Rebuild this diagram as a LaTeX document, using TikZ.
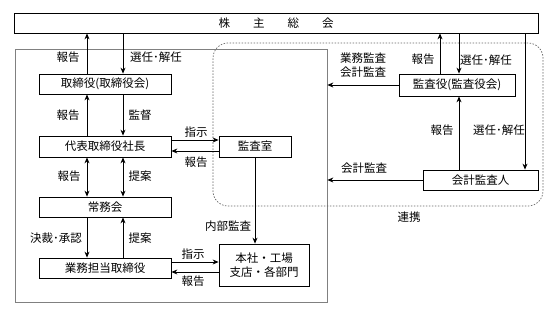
\documentclass[tikz,border=0pt]{standalone}
\usepackage{fontspec}
\setmainfont{Noto Sans CJK JP}
\usepackage{tikz}
\usetikzlibrary{arrows.meta}

\begin{document}
\begin{tikzpicture}[x=1pt, y=-1pt, >={Stealth[length=6pt,width=5pt]},
  every node/.style={font=\fontsize{11.5pt}{14pt}\selectfont, inner sep=0pt},
  box/.style={draw, line width=0.8pt, minimum height=20pt},
  lbl/.style={}]
  \useasboundingbox (0,0) rectangle (556,315);
  % regions
  \node[draw=gray, line width=0.7pt, minimum width=312pt, minimum height=253pt] (kaisha) at (171,175.5) {};
  \node[draw=gray!80!black, line width=0.7pt, dash pattern=on 1.5pt off 1.5pt, rounded corners=15pt,
        minimum width=330pt, minimum height=163pt] (renkei) at (378,124.5) {};
  \node[lbl] at (409,217) {連携};
  % boxes
  \node[box, minimum width=524pt] (kabu) at (276,23) {株\hspace{23pt}主\hspace{23pt}総\hspace{23pt}会};
  \node[box, minimum width=132pt] (tori) at (105,84) {取締役(取締役会)};
  \node[box, minimum width=132pt, minimum height=21pt] (daihyo) at (105,146.5) {代表取締役社長};
  \node[box, minimum width=132pt] (jomu) at (105,207) {常務会};
  \node[box, minimum width=132pt] (gyomu) at (105,268) {業務担当取締役};
  \node[box, minimum width=72pt, minimum height=21pt] (kansa) at (255,146.5) {監査室};
  \node[box, minimum width=90pt, minimum height=42pt, align=center] (honsha) at (264,265) {本社・工場\\支店・各部門};
  \node[box, minimum width=116pt, minimum height=22pt] (kansayaku) at (457,85) {監査役(監査役会)};
  \node[box, minimum width=115pt] (kaikei) at (480.5,180) {会計監査人};

  % left column
  \draw[->, thick] ([xshift=-18pt]tori.north) -- ([xshift=-18pt]tori.north |- kabu.south);
  \draw[->, thick] ([xshift=18pt]tori.north |- kabu.south) -- ([xshift=18pt]tori.north);
  \node[lbl] at (68,57) {報告};
  \node[lbl] at (156,57) {選任･解任};
  \draw[->, thick] ([xshift=-18pt]daihyo.north) -- ([xshift=-18pt]daihyo.north |- tori.south);
  \draw[->, thick] ([xshift=18pt]tori.south) -- ([xshift=18pt]tori.south |- daihyo.north);
  \node[lbl] at (68,115) {報告};
  \node[lbl] at (140,115) {監督};
  \draw[<->, thick] ([xshift=-18pt]daihyo.south) -- ([xshift=-18pt]daihyo.south |- jomu.north);
  \draw[<->, thick] ([xshift=18pt]daihyo.south) -- ([xshift=18pt]daihyo.south |- jomu.north);
  \node[lbl] at (69,176) {報告};
  \node[lbl] at (140,176) {提案};
  \draw[->, thick] ([xshift=-18pt]jomu.south) -- ([xshift=-18pt]jomu.south |- gyomu.north);
  \draw[->, thick] ([xshift=18pt]gyomu.north) -- ([xshift=18pt]gyomu.north |- jomu.south);
  \node[lbl] at (56,238) {決裁･承認};
  \node[lbl] at (140,238) {提案};

  % internal audit
  \draw[->, thick] ([yshift=6.5pt]daihyo.east) -- ([yshift=6.5pt]daihyo.east -| kansa.west);
  \draw[->, thick] ([yshift=-4.5pt]kansa.west) -- ([yshift=-4.5pt]kansa.west -| daihyo.east);
  \node[lbl] at (196,132) {指示};
  \node[lbl] at (196,162) {報告};
  \draw[->, thick] (kansa.south) -- (kansa.south |- honsha.north);
  \node[lbl] at (228,226) {内部監査};
  \draw[->, thick] ([yshift=6pt]gyomu.east) -- ([yshift=6pt]gyomu.east -| honsha.west);
  \draw[->, thick] ([yshift=-4pt]gyomu.east -| honsha.west) -- ([yshift=-4pt]gyomu.east);
  \node[lbl] at (193,254) {指示};
  \node[lbl] at (193,281) {報告};

  % auditors
  \draw[->, thick] ([xshift=-17pt]kansayaku.north) -- ([xshift=-17pt]kansayaku.north |- kabu.south);
  \draw[->, thick] ([xshift=2pt]kansayaku.north |- kabu.south) -- ([xshift=2pt]kansayaku.north);
  \node[lbl] at (423,59) {報告};
  \node[lbl] at (486,60) {選任･解任};
  \draw[->, thick] (kansayaku.west) -- (kansayaku.west -| kaisha.east);
  \node[lbl, align=left] at (363,65.5) {業務監査\\会計監査};
  \draw[->, thick] ([xshift=2pt]kansayaku.south |- kaikei.north) -- ([xshift=2pt]kansayaku.south);
  \draw[->, thick] ([xshift=44.5pt]kaikei.north |- kabu.south) -- ([xshift=44.5pt]kaikei.north);
  \node[lbl] at (442,130) {報告};
  \node[lbl] at (499,130) {選任･解任};
  \draw[->, thick] (kaikei.west) -- (kaikei.west -| kaisha.east);
  \node[lbl] at (364,168) {会計監査};
\end{tikzpicture}
\end{document}
